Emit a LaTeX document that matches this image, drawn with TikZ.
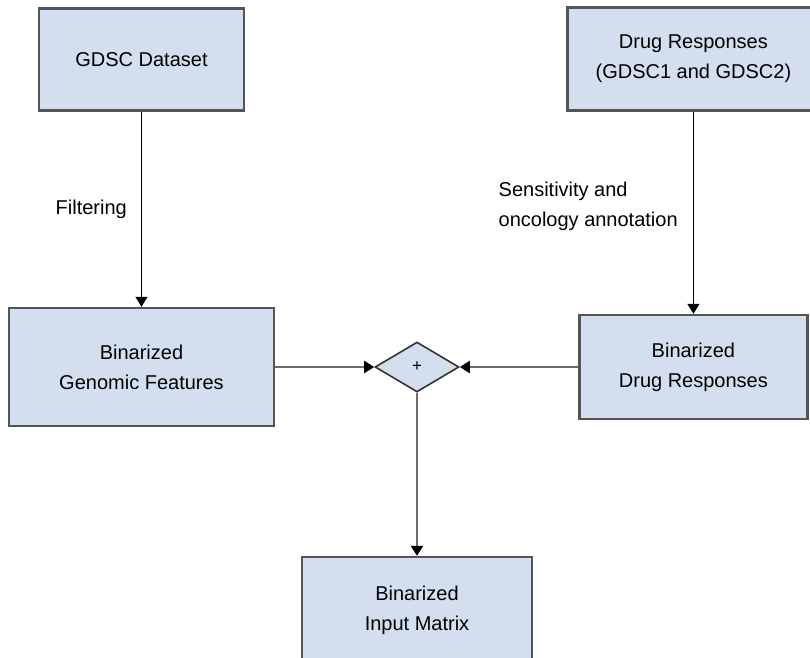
\documentclass[tikz,border=0pt]{standalone}
\usepackage{fontspec}
\setmainfont{Liberation Sans}
\usepackage{xcolor}
\usepackage{tikz}
\usetikzlibrary{positioning, arrows.meta, shapes.geometric}
\definecolor{boxfill}{RGB}{211,223,238}
\definecolor{boxline}{RGB}{85,85,85}
\definecolor{linkgray}{RGB}{110,110,110}

\begin{document}
\begin{tikzpicture}[x=1pt, y=1pt, every node/.style={inner sep=2pt},
  box/.style={draw=boxline, line width=2.4pt, fill=boxfill, align=center, font=\fontsize{20}{30}\selectfont},
  ann/.style={align=left, font=\fontsize{20}{30}\selectfont},
  merge/.style={diamond, draw=black!80, line width=1.6pt, fill=boxfill, minimum width=84pt,
    minimum height=50pt, inner sep=0pt, font=\fontsize{17}{17}\selectfont},
  arrow/.style={-{Triangle[length=10pt, width=12pt]}, line width=1.4pt},
  link/.style={-{Triangle[length=10pt, width=12pt, color=black]}, linkgray, line width=2.2pt}]
\useasboundingbox (0,0) rectangle (810,-657);
\node[box, minimum width=265pt, minimum height=118pt] (genomic) at (141.5,-367) {Binarized\\Genomic Features};
\node[box, minimum width=205pt, minimum height=102pt, above=195pt of genomic] (gdsc) {GDSC Dataset};
\node[box, minimum width=228pt, minimum height=104pt, right=303pt of genomic] (bindrug) {Binarized\\Drug Responses};
\node[box, minimum width=252pt, minimum height=103pt, above=202pt of bindrug] (drugs) {Drug Responses\\(GDSC1 and GDSC2)};
\node[merge, right=99pt of genomic] (plus) {+};
\node[box, minimum width=230pt, minimum height=106pt, below=163pt of plus] (matrix) {Binarized\\Input Matrix};
\draw[arrow] (gdsc) -- node[ann, left=12pt] {Filtering} (genomic);
\draw[arrow] (drugs) -- node[ann, left=13pt, pos=0.47] {Sensitivity and\\oncology annotation} (bindrug);
\draw[link] (genomic) -- (plus);
\draw[link] (bindrug) -- (plus);
\draw[link] (plus) -- (matrix);
\end{tikzpicture}
\end{document}
